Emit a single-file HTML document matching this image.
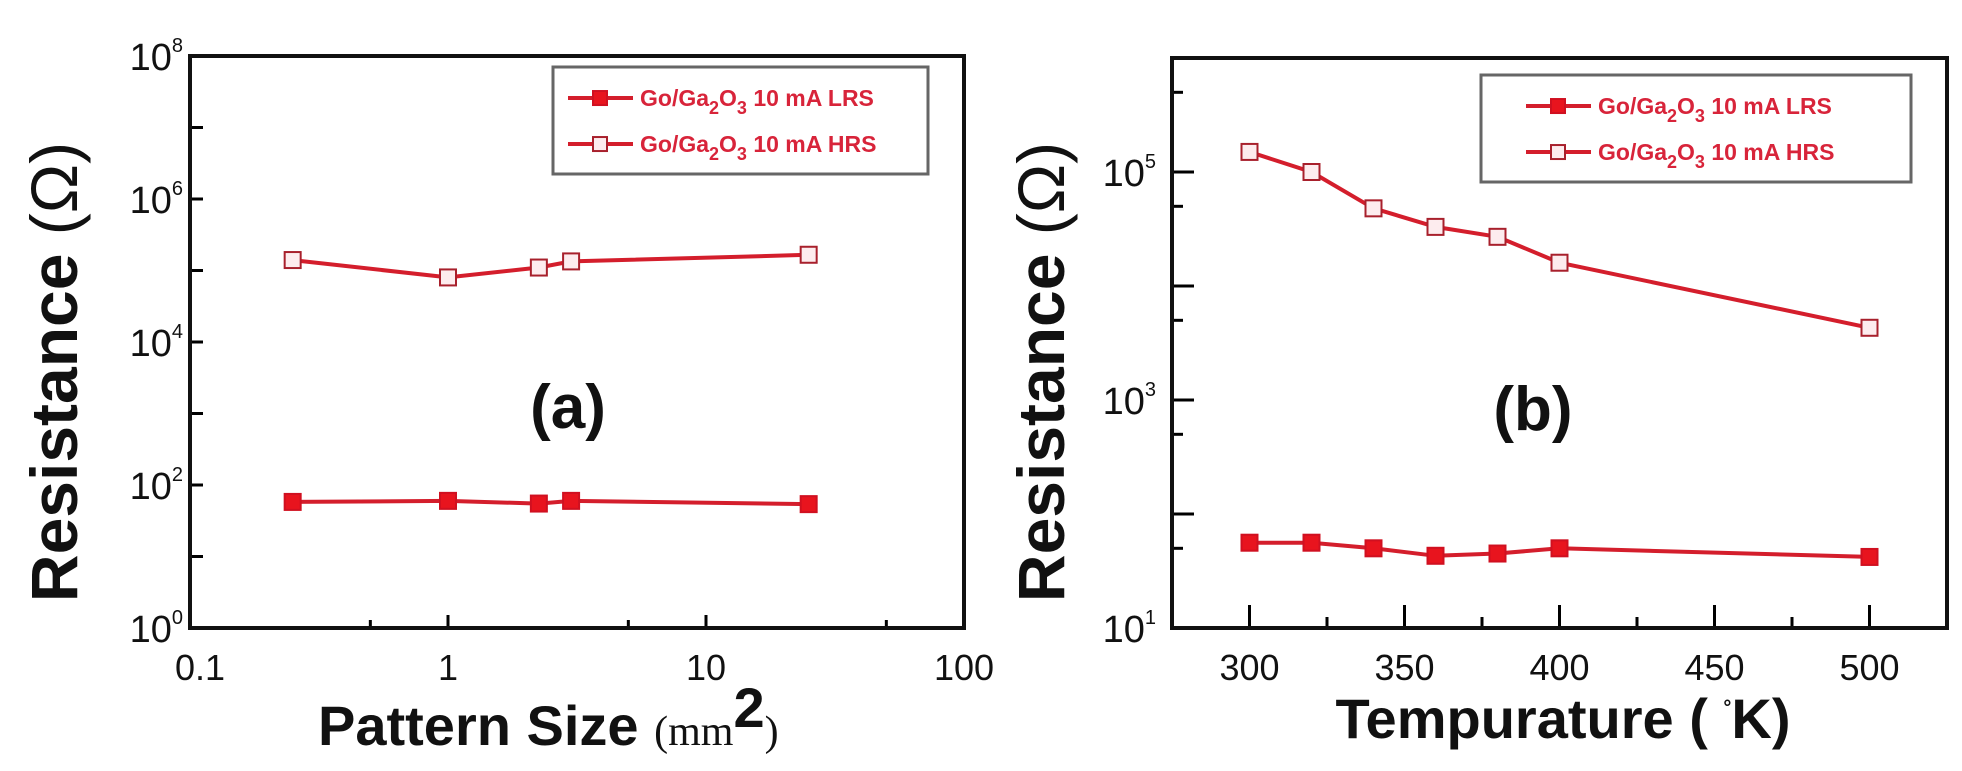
<!DOCTYPE html>
<html><head><meta charset="utf-8"><style>
html,body{margin:0;padding:0;background:#fff;}
svg{display:block;font-family:"Liberation Sans",Arial,sans-serif;}
</style></head><body>
<svg id="fig" width="1962" height="771" viewBox="0 0 1962 771">
<g id="pa"></g>
<g id="pb"></g>
</svg>
<script>
// Panel (a) data
const aSizes = [0.25, 1, 2.25, 3, 25];
const aLRS = [58, 60, 55, 60, 54];
const aHRS = [140000, 80000, 110000, 134000, 166000];
const aXTicks = [0.1, 1, 10, 100];
const aXTickLabels = ["0.1", "1", "10", "100"];
const aYTicks = [0, 2, 4, 6, 8];
// Panel (b) data
const bTemps = [300, 320, 340, 360, 380, 400, 500];
const bLRS = [56, 56, 50, 43, 45, 50, 42];
const bHRS = [150000, 100000, 48000, 33000, 27000, 16000, 4300];
const bXTicks = [300, 350, 400, 450, 500];
const bYTickLabels = [1, 3, 5];

const NS = "http://www.w3.org/2000/svg";
function mk(parent, tag, attrs, text) {
  const e = document.createElementNS(NS, tag);
  for (const k in attrs) e.setAttribute(k, attrs[k]);
  if (text !== undefined) e.textContent = text;
  parent.appendChild(e);
  return e;
}
const LINE = "#d41e2c";

function drawSeries(g, xs, ys, fx, fy, filled, name) {
  const pts = xs.map((x, i) => fx(x).toFixed(1) + "," + fy(ys[i]).toFixed(1)).join(" ");
  const pl = mk(g, "polyline", {points: pts, fill: "none", stroke: LINE, "stroke-width": 4});
  
  
  xs.forEach((x, i) => {
    const r = mk(g, "rect", {x: fx(x) - 8, y: fy(ys[i]) - 8, width: 16, height: 16,
      fill: filled ? "#e8141e" : "#fdecee", stroke: filled ? "#d01020" : "#a8202c", "stroke-width": 2});
    
    
  });
}

function legend(g, x0, y0, w, h) {
  const box = mk(g, "rect", {x: x0, y: y0, width: w, height: h, fill: "#fff", stroke: "#666", "stroke-width": 3});
  
  
  const rows = [["LRS", true], ["HRS", false]];
  rows.forEach((r, i) => {
    const cy = y0 + h * (i === 0 ? 0.29 : 0.72);
    const lx = x0 + (w > 400 ? 45 : 15);
    mk(g, "line", {x1: lx, y1: cy, x2: lx + 65, y2: cy, stroke: LINE, "stroke-width": 4});
    const m = mk(g, "rect", {x: lx + 25, y: cy - 7, width: 14, height: 14, fill: r[1] ? "#e8141e" : "#fdecee", stroke: r[1] ? "#d01020" : "#a8202c", "stroke-width": 2});
    
    
    const t = mk(g, "text", {x: lx + 72, y: cy + 8, "font-size": 23, "font-weight": "bold", fill: "#d8243a"});
    
    
    t.innerHTML = 'Go/Ga<tspan dy="8" font-size="18">2</tspan><tspan dy="-8">O</tspan><tspan dy="8" font-size="18">3</tspan><tspan dy="-8"> 10 mA ' + r[0] + '</tspan>';
  });
}

// ---------- Panel A ----------
(function () {
  const g = document.getElementById("pa");
  const L = 190, R = 964, T = 56, B = 628;
  const fx = v => L + (Math.log10(v) - (-1)) / 3 * (R - L);
  const fy = v => B - Math.log10(v) / 8 * (B - T);
  const fyl = e => B - e / 8 * (B - T);
  // y ticks
  for (let e = 0; e <= 8; e++) {
    const y = fyl(e);
    mk(g, "line", {x1: L, y1: y, x2: L + 13, y2: y, stroke: "#000", "stroke-width": 3});
  }
  aYTicks.forEach(e => {
    const t = mk(g, "text", {x: 183, y: fyl(e) + 14, "text-anchor": "end", "font-size": 38, fill: "#111"});
    
    
    t.innerHTML = '10<tspan dy="-18" font-size="20">' + e + '</tspan>';
  });
  // x ticks
  aXTicks.forEach((v, i) => {
    const x = fx(v);
    mk(g, "line", {x1: x, y1: B, x2: x, y2: B - 13, stroke: "#000", "stroke-width": 3});
    if (i < 3) mk(g, "line", {x1: fx(v * 5), y1: B, x2: fx(v * 5), y2: B - 8, stroke: "#000", "stroke-width": 3});
    const t = mk(g, "text", {x: x + (i === 0 ? 10 : 0), y: 680, "text-anchor": "middle", "font-size": 36, fill: "#111"}, aXTickLabels[i]);
    
    
  });
  drawSeries(g, aSizes, aHRS, fx, fy, false, 'hrs');
  drawSeries(g, aSizes, aLRS, fx, fy, true, 'lrs');
  const fr = mk(g, "rect", {x: L, y: T, width: R - L, height: B - T, fill: "none", stroke: "#111", "stroke-width": 4});
  
  
  legend(g, 553, 67, 375, 107);
  const pl = mk(g, "text", {x: 568, y: 428, "text-anchor": "middle", "font-size": 62, "font-weight": "bold", fill: "#111"}, "(a)");
  
  
  const yt = mk(g, "text", {x: 0, y: 0, transform: "translate(77,372) rotate(-90)", "text-anchor": "middle", "font-size": 66, "font-weight": "bold", fill: "#111"});
  
  
  yt.innerHTML = 'Resistance <tspan font-weight="normal">(Ω)</tspan>';
  const xt = mk(g, "text", {x: 318, y: 745, "font-size": 56, "font-weight": "bold", fill: "#111"});
  
  
  xt.innerHTML = 'Pattern Size <tspan font-size="42" font-weight="normal" font-family="Liberation Serif">(mm</tspan><tspan dy="-18" font-size="56">2</tspan><tspan dy="18" font-size="42" font-weight="normal" font-family="Liberation Serif">)</tspan>';
})();

// ---------- Panel B ----------
(function () {
  const g = document.getElementById("pb");
  const L = 1172, R = 1947, T = 58, B = 628;
  const X0 = 275, X1 = 525;
  const fx = v => L + (v - X0) / (X1 - X0) * (R - L);
  const fy = v => B - (Math.log10(v) - 1) / 5 * (B - T);
  for (let e = 1; e <= 6; e++) {
    const y = fy(Math.pow(10, e));
    if (e > 1) mk(g, "line", {x1: L, y1: y, x2: L + 22, y2: y, stroke: "#000", "stroke-width": 3});
    const y5 = fy(5 * Math.pow(10, e));
    if (y5 > T) mk(g, "line", {x1: L, y1: y5, x2: L + 11, y2: y5, stroke: "#000", "stroke-width": 3});
  }
  bYTickLabels.forEach(e => {
    const t = mk(g, "text", {x: 1156, y: fy(Math.pow(10, e)) + 14, "text-anchor": "end", "font-size": 38, fill: "#111"});
    
    
    t.innerHTML = '10<tspan dy="-18" font-size="20">' + e + '</tspan>';
  });
  bXTicks.forEach(v => {
    const x = fx(v);
    mk(g, "line", {x1: x, y1: B, x2: x, y2: B - 23, stroke: "#000", "stroke-width": 3});
    if (v < 500) mk(g, "line", {x1: fx(v + 25), y1: B, x2: fx(v + 25), y2: B - 11, stroke: "#000", "stroke-width": 3});
    const t = mk(g, "text", {x: x, y: 680, "text-anchor": "middle", "font-size": 36, fill: "#111"}, String(v));
    
    
  });
  drawSeries(g, bTemps, bHRS, fx, fy, false, 'hrs');
  drawSeries(g, bTemps, bLRS, fx, fy, true, 'lrs');
  const fr = mk(g, "rect", {x: L, y: T, width: R - L, height: B - T, fill: "none", stroke: "#111", "stroke-width": 4});
  
  
  legend(g, 1481, 75, 430, 107);
  const pl = mk(g, "text", {x: 1533, y: 430, "text-anchor": "middle", "font-size": 62, "font-weight": "bold", fill: "#111"}, "(b)");
  
  
  const yt = mk(g, "text", {x: 0, y: 0, transform: "translate(1064,372) rotate(-90)", "text-anchor": "middle", "font-size": 66, "font-weight": "bold", fill: "#111"});
  
  
  yt.innerHTML = 'Resistance <tspan font-weight="normal">(Ω)</tspan>';
  const xt = mk(g, "text", {x: 1563, y: 738, "text-anchor": "middle", "font-size": 56, "font-weight": "bold", fill: "#111"});
  
  
  xt.innerHTML = 'Tempurature ( <tspan dy="-24" font-size="20">°</tspan><tspan dy="24">K)</tspan>';
})();
</script>
</body></html>
